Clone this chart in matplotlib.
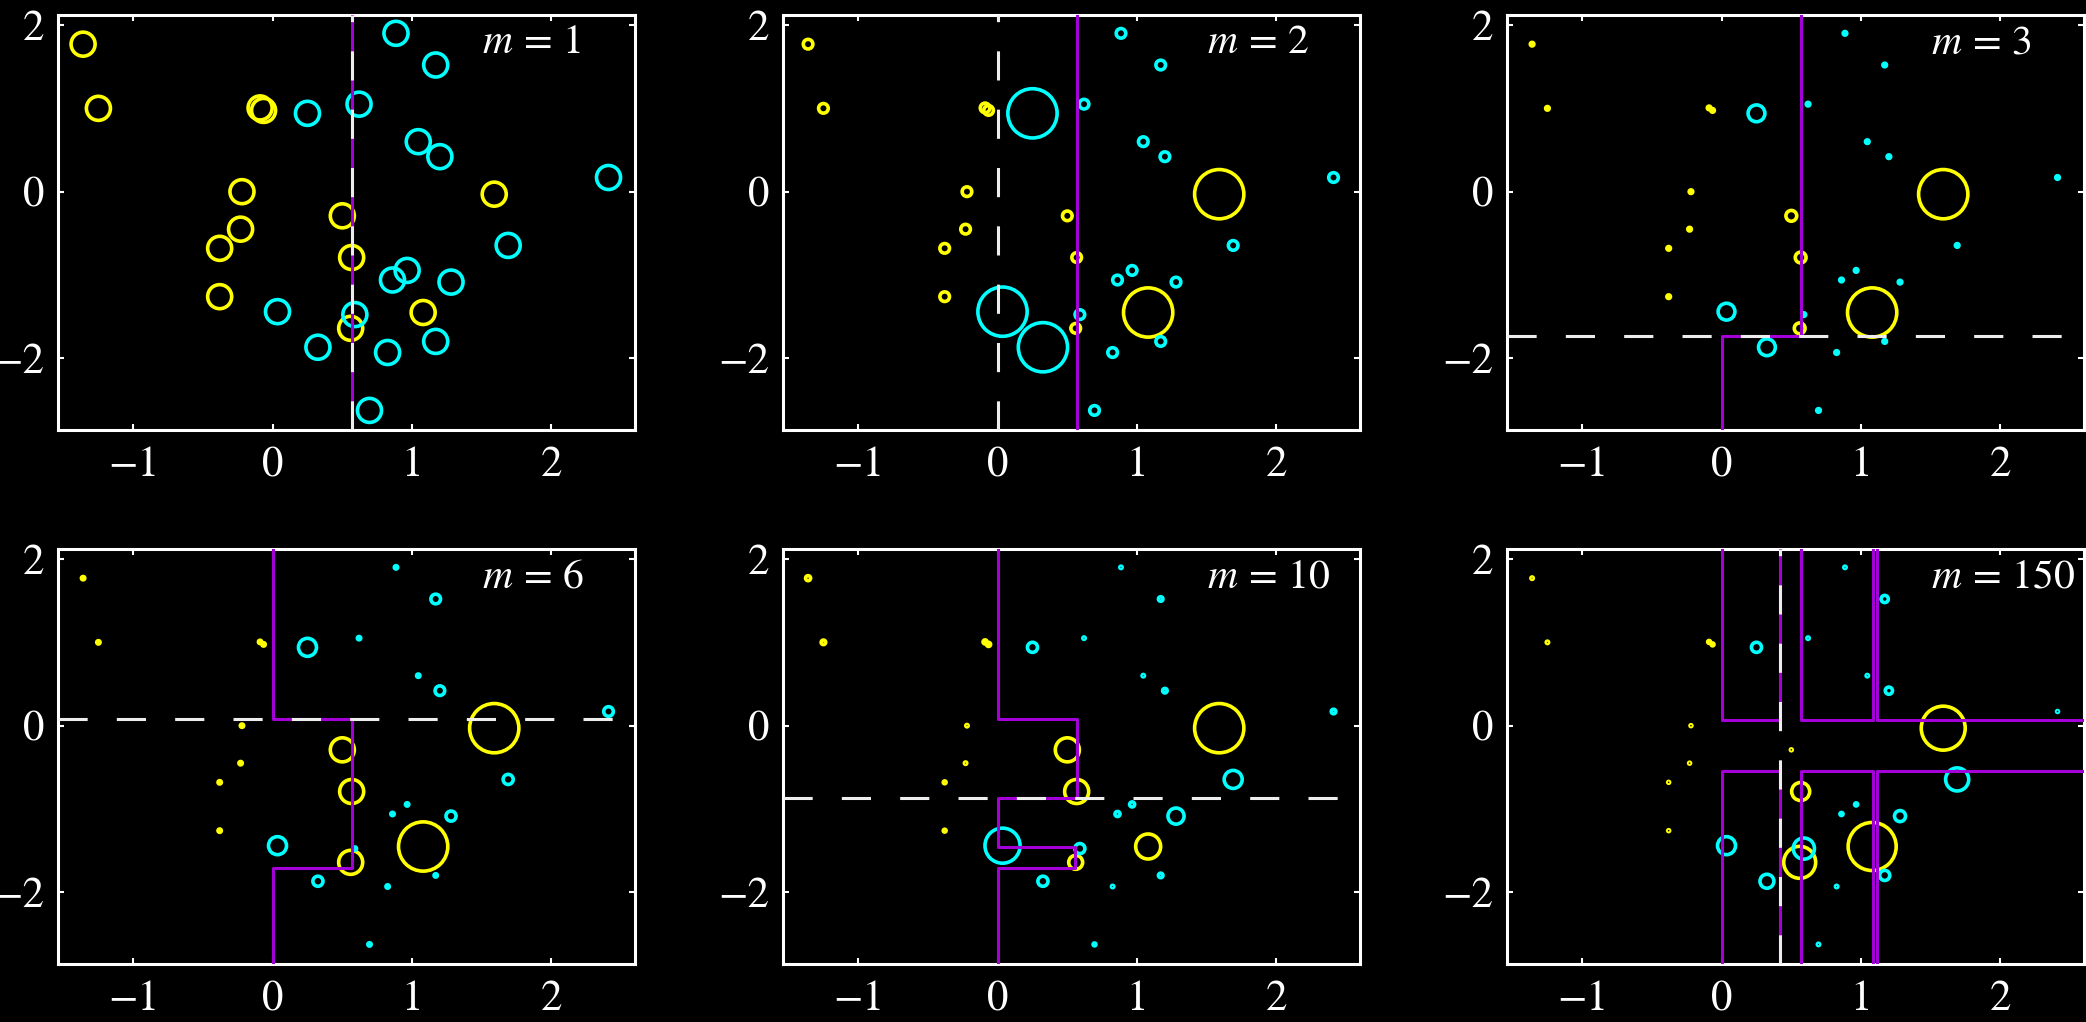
import matplotlib
matplotlib.use('Agg')
import matplotlib.pyplot as plt

plt.rcParams['font.family'] = 'STIXGeneral'
plt.rcParams['mathtext.fontset'] = 'stix'
plt.rcParams['lines.scale_dashes'] = False

XLIM = (-1.54, 2.6)
YLIM = (-2.86, 2.12)
X0, X1 = XLIM
Y0, Y1 = YLIM

# training data: class 1 (yellow) and class 2 (cyan)
yel_x = [-1.36, -1.25, -0.09, -0.065, -0.22, -0.23, -0.38, -0.38, 0.50, 0.567, 0.56, 1.08, 1.59]
yel_y = [1.77, 1.00, 1.005, 0.975, 0.00, -0.45, -0.68, -1.26, -0.29, -0.79, -1.64, -1.45, -0.03]
cyan_x = [0.885, 1.17, 0.62, 0.25, 1.045, 1.20, 2.41, 1.69, 0.965, 0.86, 1.28, 0.035,
          0.59, 0.325, 0.825, 1.17, 0.695]
cyan_y = [1.90, 1.52, 1.05, 0.94, 0.60, 0.42, 0.17, -0.645, -0.945, -1.06, -1.085, -1.44,
          -1.475, -1.867, -1.93, -1.797, -2.625]

rounds = [1, 2, 3, 6, 10, 150]

# point weights for each round, relative to the initial uniform weight
yel_w1 = [1, 1, 1, 1, 1, 1, 1, 1, 1, 1, 1, 1, 1]
cyan_w1 = [1, 1, 1, 1, 1, 1, 1, 1, 1, 1, 1, 1, 1, 1, 1, 1, 1]
yel_w2 = [0.4, 0.4, 0.4, 0.4, 0.4, 0.4, 0.4, 0.4, 0.4, 0.4, 0.4, 2.05, 2.05]
cyan_w2 = [0.4, 0.4, 0.4, 2.05, 0.4, 0.4, 0.4, 0.4, 0.4, 0.4, 0.4, 2.05, 0.4, 2.05, 0.4, 0.4, 0.4]
yel_w3 = [0.15, 0.15, 0.15, 0.15, 0.15, 0.15, 0.15, 0.15, 0.45, 0.45, 0.45, 2.05, 2.05]
cyan_w3 = [0.15, 0.15, 0.15, 0.7, 0.15, 0.15, 0.15, 0.15, 0.15, 0.15, 0.15, 0.7, 0.15, 0.7,
           0.15, 0.15, 0.15]
yel_w6 = [0.14, 0.14, 0.14, 0.14, 0.14, 0.14, 0.14, 0.14, 1.0, 1.0, 1.0, 2.05, 2.05]
cyan_w6 = [0.14, 0.4, 0.14, 0.75, 0.14, 0.4, 0.4, 0.42, 0.14, 0.14, 0.42, 0.75, 0.14, 0.42,
           0.14, 0.14, 0.14]
yel_w10 = [0.21, 0.19, 0.17, 0.17, 0.1, 0.1, 0.12, 0.12, 1.0, 1.0, 0.58, 1.04, 2.05]
cyan_w10 = [0.1, 0.19, 0.1, 0.42, 0.1, 0.19, 0.19, 0.75, 0.21, 0.21, 0.67, 1.46, 0.42, 0.42,
            0.1, 0.19, 0.12]
yel_w150 = [0.1, 0.1, 0.12, 0.12, 0.08, 0.08, 0.08, 0.08, 0.08, 0.75, 1.33, 2.0, 1.83]
cyan_w150 = [0.1, 0.3, 0.1, 0.42, 0.1, 0.3, 0.08, 0.96, 0.13, 0.13, 0.46, 0.75, 0.88, 0.58,
             0.1, 0.42, 0.1]

# most recent base learner: orientation and threshold
stump_dir = ['v', 'v', 'h', 'h', 'h', 'v']
stump_val = [0.57, 0.0, -1.73, 0.08, -0.865, 0.416]

# decision boundary of the combined classifier, as polylines
bound_m1 = [([0.57, 0.57], [Y0, Y1])]
bound_m2 = [([0.57, 0.57], [Y0, Y1])]
bound_m3 = [([0.57, 0.57, 0.0, 0.0], [Y1, -1.73, -1.73, Y0])]
bound_m6 = [([0.0, 0.0, 0.57, 0.57, 0.0, 0.0], [Y1, 0.08, 0.08, -1.71, -1.71, Y0])]
bound_m10 = [([0.0, 0.0, 0.57, 0.57, 0.0, 0.0, 0.555, 0.555, 0.0, 0.0],
              [Y1, 0.08, 0.08, -0.87, -0.87, -1.46, -1.46, -1.71, -1.71, Y0])]
bound_m150 = [
    ([0.0, 0.0, 0.416, 0.416], [Y1, 0.068, 0.068, Y1]),
    ([0.571, 0.571, 1.085, 1.085], [Y1, 0.068, 0.068, Y1]),
    ([1.115, 1.115, X1], [Y1, 0.068, 0.068]),
    ([0.0, 0.0, 0.416, 0.416], [Y0, -0.54, -0.54, Y0]),
    ([0.571, 0.571, 1.085, 1.085], [Y0, -0.54, -0.54, Y0]),
    ([1.115, 1.115, X1], [Y0, -0.54, -0.54]),
]

yel_ws = [yel_w1, yel_w2, yel_w3, yel_w6, yel_w10, yel_w150]
cyan_ws = [cyan_w1, cyan_w2, cyan_w3, cyan_w6, cyan_w10, cyan_w150]
bounds = [bound_m1, bound_m2, bound_m3, bound_m6, bound_m10, bound_m150]

YELLOW = '#FFFF00'
CYAN = '#00FFFF'
PURPLE = '#A400D8'
DASH = '#EDEDED'
BASE_D = 17.3   # marker diameter (pt) for weight 1

W, H = 2086, 1022
fig = plt.figure(figsize=(W / 100, H / 100), dpi=100, facecolor='black')

col_left = [58, 783, 1507]
row_top = [15, 549]
aw, ah = 577, 415

for k, m in enumerate(rounds):
    r, c = divmod(k, 3)
    ax = fig.add_axes([col_left[c] / W, 1 - (row_top[r] + ah) / H, aw / W, ah / H])
    ax.set_facecolor('black')

    sy = [(w * BASE_D) ** 2 for w in yel_ws[k]]
    sc = [(w * BASE_D) ** 2 for w in cyan_ws[k]]
    ax.scatter(yel_x, yel_y, s=sy, facecolors='none', edgecolors=YELLOW,
               linewidths=2.6, zorder=2)
    ax.scatter(cyan_x, cyan_y, s=sc, facecolors='none', edgecolors=CYAN,
               linewidths=2.6, zorder=2)

    for bx, by in bounds[k]:
        ax.plot(bx, by, color=PURPLE, lw=2.2, zorder=3)

    if stump_dir[k] == 'v':
        ax.axvline(stump_val[k], color=DASH, lw=2.2, dashes=(21, 21), zorder=4)
    else:
        ax.axhline(stump_val[k], color=DASH, lw=2.2, dashes=(21, 21), zorder=4)

    ax.text(0.735, 0.908, '$m\\,=\\,%d$' % m, transform=ax.transAxes,
            ha='left', va='baseline', color='white', fontsize=30)

    ax.set_xlim(XLIM)
    ax.set_ylim(YLIM)
    ax.set_xticks([-1, 0, 1, 2])
    ax.set_yticks([-2, 0, 2])
    ax.tick_params(direction='in', top=True, right=True, length=4, width=1.5,
                   color='white', labelcolor='white', labelsize=31)
    ax.tick_params(axis='x', pad=12)
    ax.tick_params(axis='y', pad=10)
    for sp in ax.spines.values():
        sp.set_color('white')
        sp.set_linewidth(2.2)

fig.savefig('out.png', dpi=100, facecolor='black')
